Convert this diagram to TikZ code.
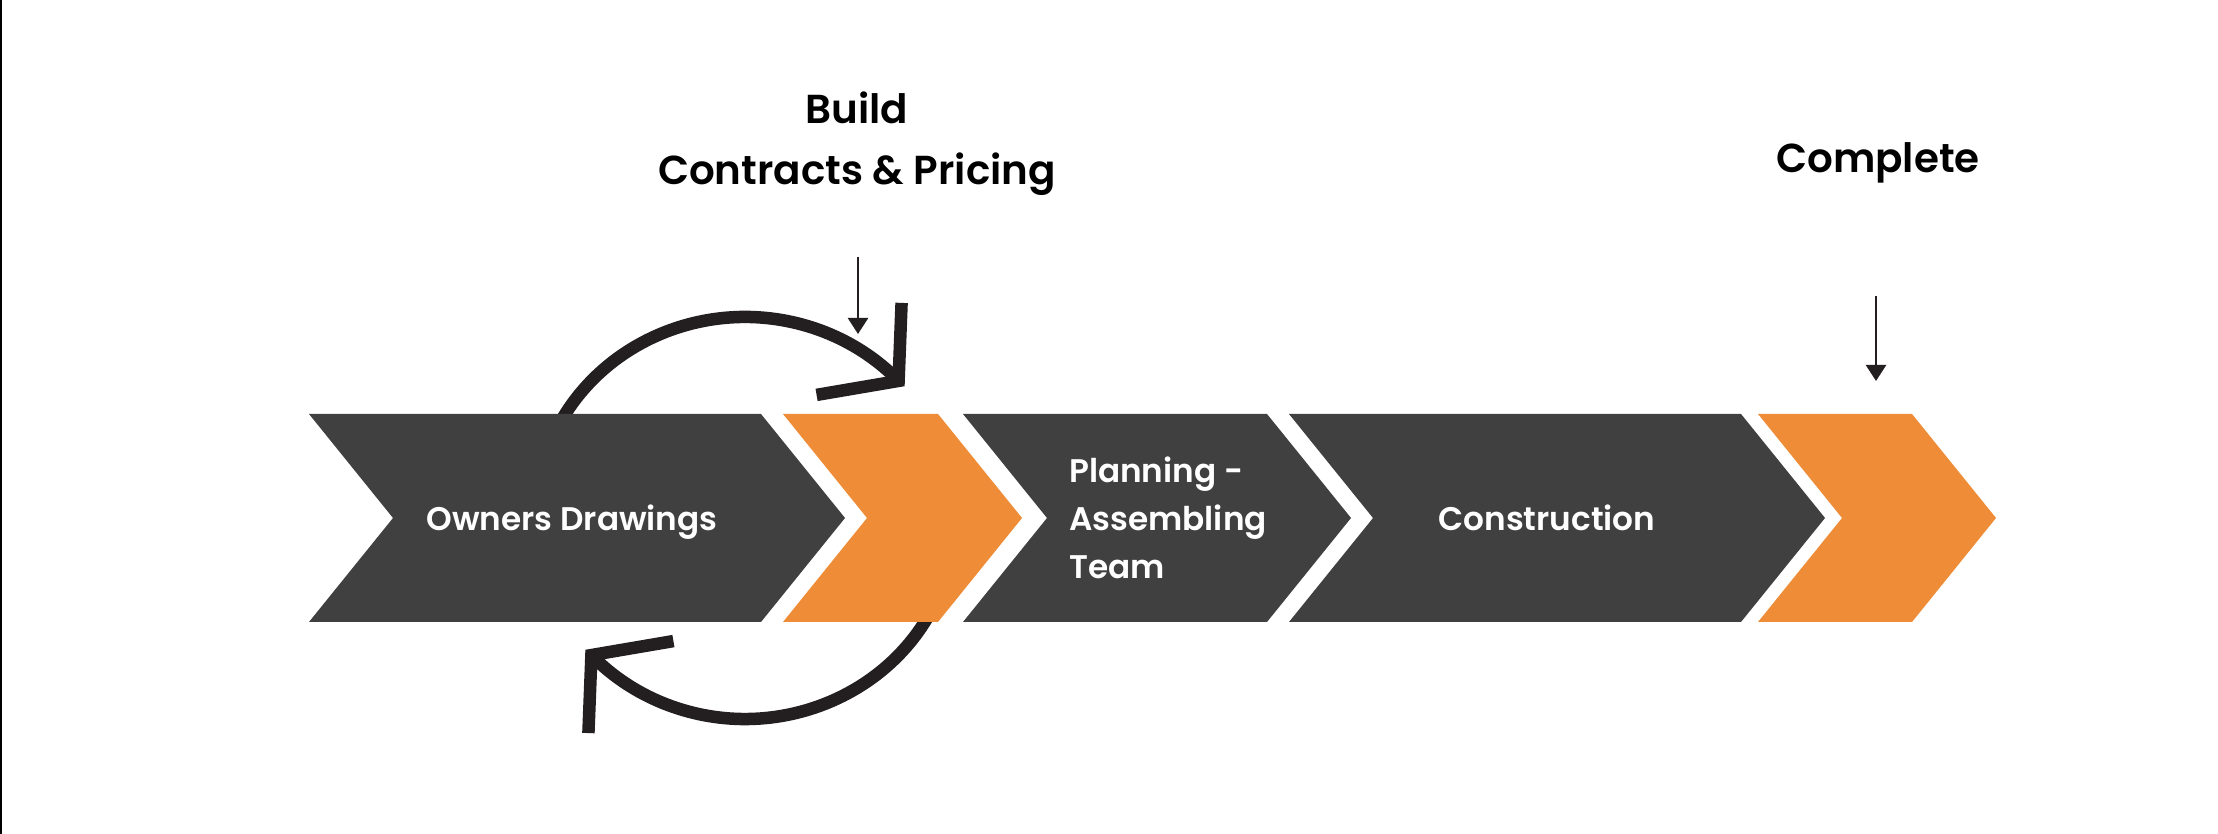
\documentclass[tikz,border=0pt]{standalone}
\usepackage{fontspec}
\setmainfont{Poppins}[UprightFont={* SemiBold}, BoldFont={* Bold}]
\usepackage{xcolor}
\usepackage{tikz}
\usetikzlibrary{arrows.meta}
\definecolor{chevdark}{HTML}{404040}
\definecolor{chevorange}{HTML}{EE8C37}
\definecolor{loopblack}{HTML}{231F20}
% chevron band piece: left x, right x, colour
\newcommand{\drawchevron}[3]{%
	\fill[#3] (#1,420) -- (#2,420) -- ++(84,-104) -- ++(-84,-104) -- (#1,212) -- ++(84,104) -- cycle;}

\begin{document}
\begin{tikzpicture}[
				x=0.01cm, y=0.01cm,
				lbl/.style={text=white, inner sep=0pt, font=\fontsize{9.3}{13.7}\selectfont},
				ttl/.style={text=black, inner sep=0pt, align=center, font=\fontsize{11.5}{17.4}\selectfont},
				thinar/.style={-{Triangle[length=0.16cm, width=0.2cm]}, draw=loopblack, line width=0.7pt},
				cyclearc/.style={draw=loopblack, line width=0.125cm},
				cyclehead/.style={cyclearc, line join=miter, miter limit=10},
			]
			\fill[white] (0,0) rectangle (2218,834);
			\useasboundingbox (0,0) rectangle (2218,834);
			\draw[black, line width=0.02cm] (1,0) -- (1,834);
			% review loop round the first two steps
			\draw[cyclearc] (745,316) ++(160:210 and 201)
			arc[start angle=160, end angle=43, x radius=210, y radius=201] coordinate (upcorner);
			\draw[cyclehead] (upcorner) ++(3,78) -- (upcorner) -- ++(-82,-14);
			\draw[cyclearc] (745,316) ++(-20:210 and 201)
			arc[start angle=-20, end angle=-137, x radius=210, y radius=201] coordinate (lowcorner);
			\draw[cyclehead] (lowcorner) ++(-3,-78) -- (lowcorner) -- ++(82,14);
			% process band
			\drawchevron{309}{761}{chevdark}
			\drawchevron{783}{938}{chevorange}
			\drawchevron{963}{1267}{chevdark}
			\drawchevron{1289}{1741}{chevdark}
			\drawchevron{1758}{1912}{chevorange}
			\node[lbl, anchor=base] (owners) at (572,303) {Owners Drawings};
			\node[lbl, align=left] (planning) at (1168,316) {Planning -\\Assembling\\Team};
			\node[lbl, anchor=base] (construction) at (1547,303) {Construction};
			% milestones
			\node[ttl] (build) at (857,690) {Build\\Contracts \& Pricing};
			\node[ttl, anchor=base] (complete) at (1878,661) {Complete};
			\coordinate (buildto) at (858,500);
			\coordinate (donefrom) at (1876,538);
			\coordinate (doneto) at (1876,453);
			\draw[thinar] (build.south) ++(1,-60) -- (buildto);
			\draw[thinar] (donefrom) -- (doneto);
		\end{tikzpicture}
\end{document}
